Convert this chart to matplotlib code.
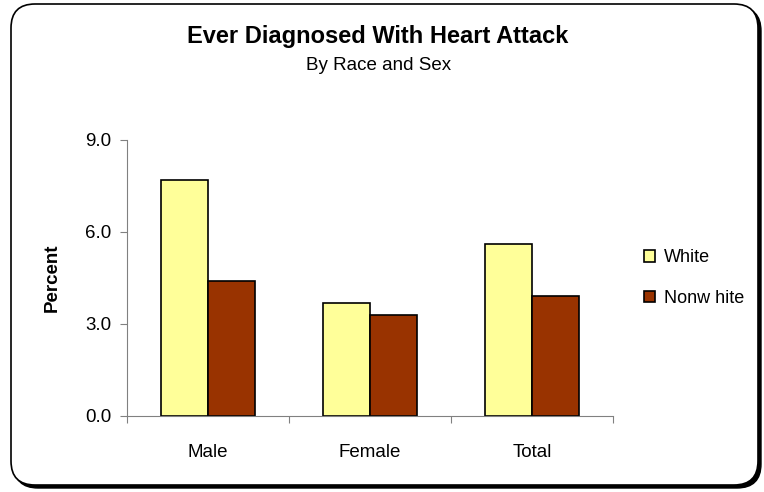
import numpy as np
import matplotlib
matplotlib.use("Agg")
import matplotlib.pyplot as plt
from matplotlib.patches import FancyBboxPatch

# === data ===
categories = ["Male", "Female", "Total"]
white = [7.7, 3.7, 5.6]
nonwhite = [4.4, 3.3, 3.9]
series_names = ["White", "Nonw hite"]
yticks = [0.0, 3.0, 6.0, 9.0]

plt.rcParams['font.family'] = ['Liberation Sans', 'DejaVu Sans']

W, H = 764, 492
fig = plt.figure(figsize=(W / 100, H / 100), dpi=100)

# rounded frame with drop shadow (pixel based)
x0, y0, x1, y1, r, off = 11, 4, 758, 485, 24, 3
box = dict(boxstyle=f"round,pad=0,rounding_size={r / W}", transform=fig.transFigure,
           mutation_aspect=W / H)
shadow = FancyBboxPatch(((x0 + off) / W, 1 - (y1 + off) / H), (x1 - x0) / W, (y1 - y0) / H,
                        facecolor="black", edgecolor="black", zorder=-2, **box)
frame = FancyBboxPatch((x0 / W, 1 - y1 / H), (x1 - x0) / W, (y1 - y0) / H,
                       facecolor="white", edgecolor="black", lw=1.2, zorder=-1, **box)
fig.patches.extend([shadow, frame])

ax = fig.add_axes([127 / W, 1 - 416 / H, (613 - 127) / W, (416 - 140) / H])
ax.set_facecolor("none")
x = np.arange(len(categories))
w = 0.29
ax.bar(x - w / 2, white, w, color="#FFFF99", edgecolor="black", lw=1.2, label=series_names[0])
ax.bar(x + w / 2, nonwhite, w, color="#993300", edgecolor="black", lw=1.2, label=series_names[1])

ax.set_xlim(-0.5, 2.5)
ax.set_ylim(0, 9)
ax.set_yticks(yticks)
ax.set_yticklabels([f"{v:.1f}" for v in yticks], fontsize=13.5)
ax.set_xticks([-0.5, 0.5, 1.5, 2.5])
ax.set_xticklabels([])
ax.set_xticks(x, minor=True)
ax.set_xticklabels(categories, minor=True, fontsize=13.5)
ax.tick_params(axis="x", which="minor", length=0, pad=20)
ax.tick_params(axis="x", which="major", length=5, color="#808080", direction="out")
ax.tick_params(axis="y", length=5, color="#808080", direction="out", pad=6)
for s in ["top", "right"]:
    ax.spines[s].set_visible(False)
for s in ["left", "bottom"]:
    ax.spines[s].set_color("#808080")

ax.set_ylabel("Percent", fontsize=13.5, fontweight="bold", labelpad=18)

fig.text(0.495, 1 - 37 / H, "Ever Diagnosed With Heart Attack", ha="center", va="center",
         fontsize=17, fontweight="bold")
fig.text(0.495, 1 - 66 / H, "By Race and Sex", ha="center", va="center", fontsize=13.5)

ax.legend(loc="center left", bbox_to_anchor=(1.03, 0.5), frameon=False, fontsize=13,
          handlelength=0.6, handleheight=0.6, handletextpad=0.5, labelspacing=1.3)

fig.savefig("out.png", dpi=100)
